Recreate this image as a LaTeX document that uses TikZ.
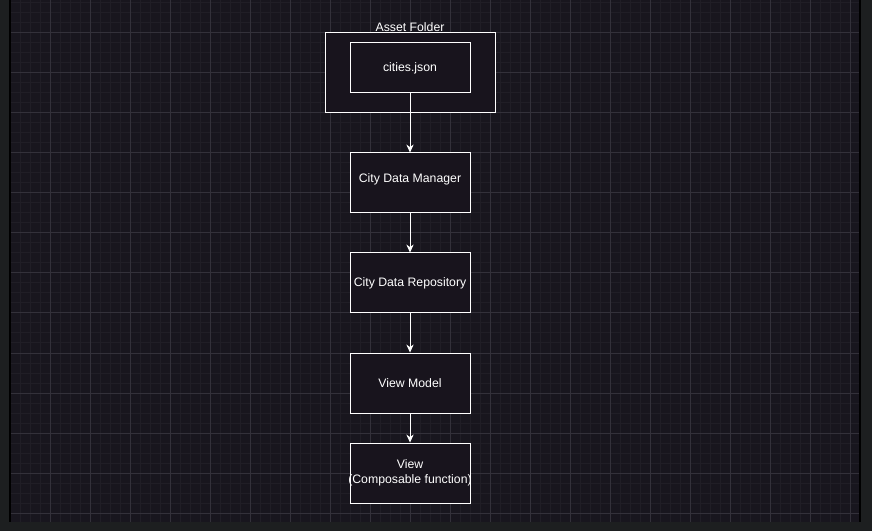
\documentclass[tikz,border=0pt]{standalone}
\usepackage{fontspec}
\setmainfont{Liberation Sans}
\usetikzlibrary{arrows.meta}
\definecolor{framegray}{HTML}{1D1F20}
\definecolor{canvasbg}{HTML}{18161E}
\definecolor{boxbg}{HTML}{18141D}
\definecolor{gridminor}{HTML}{201E26}
\definecolor{gridmajor}{HTML}{33313A}
\tikzset{
	box/.style={draw=white, fill=boxbg, line width=0.75pt, text=white,
		minimum width=90pt, minimum height=45pt, align=center, inner sep=0pt,
		font=\fontsize{9.2}{11}\selectfont},
	link/.style={draw=white, line width=0.75pt, -{Stealth[length=6pt, width=5.5pt]}},
}
\begin{document}
\begin{tikzpicture}[x=0.75pt, y=-0.75pt]
	\useasboundingbox (0,0) rectangle (872,531);
	\fill[framegray] (0,0) rectangle (872,531);
	\fill[canvasbg] (11,0) rectangle (859,522);
	% grid
	\begin{scope}
		\clip (11,0) rectangle (859,522);
		\foreach \gx in {10,20,...,860}
			\draw[gridminor, line width=0.75pt] (\gx,0) -- (\gx,522);
		\foreach \gy in {3,13,...,523}
			\draw[gridminor, line width=0.75pt] (11,\gy) -- (859,\gy);
		\foreach \gx in {10,50,...,860}
			\draw[gridmajor, line width=0.75pt] (\gx,0) -- (\gx,522);
		\foreach \gy in {33,73,...,523}
			\draw[gridmajor, line width=0.75pt] (11,\gy) -- (859,\gy);
	\end{scope}
	\draw[black, line width=1pt] (10,0) -- (10,522);
	\draw[black, line width=1pt] (860,0) -- (860,522);
	% boxes
	\node[box, minimum width=127.5pt, minimum height=60pt] (folder) at (410,73) {};
	\node[text=white, font=\fontsize{9.2}{11}\selectfont, anchor=south, inner sep=1pt] (folderlabel) at (410,33) {Asset Folder};
	\node[box, minimum height=37.5pt] (cities) at (410,68) {cities.json};
	\node[box] (manager) at (410,183) {\raisebox{0.5pt}[0pt][0pt]{City Data Manager}};
	\node[box] (repo) at (410,283) {City Data Repository};
	\node[box] (viewmodel) at (410,383) {View Model};
	\node[box] (view) at (410,473) {View\\\makebox[86pt]{(Composable function)}};
	% arrows
	\draw[link] (cities) -- (manager);
	\draw[link] (manager) -- (repo);
	\draw[link] (repo) -- (viewmodel);
	\draw[link] (viewmodel) -- (view);
\end{tikzpicture}
\end{document}
